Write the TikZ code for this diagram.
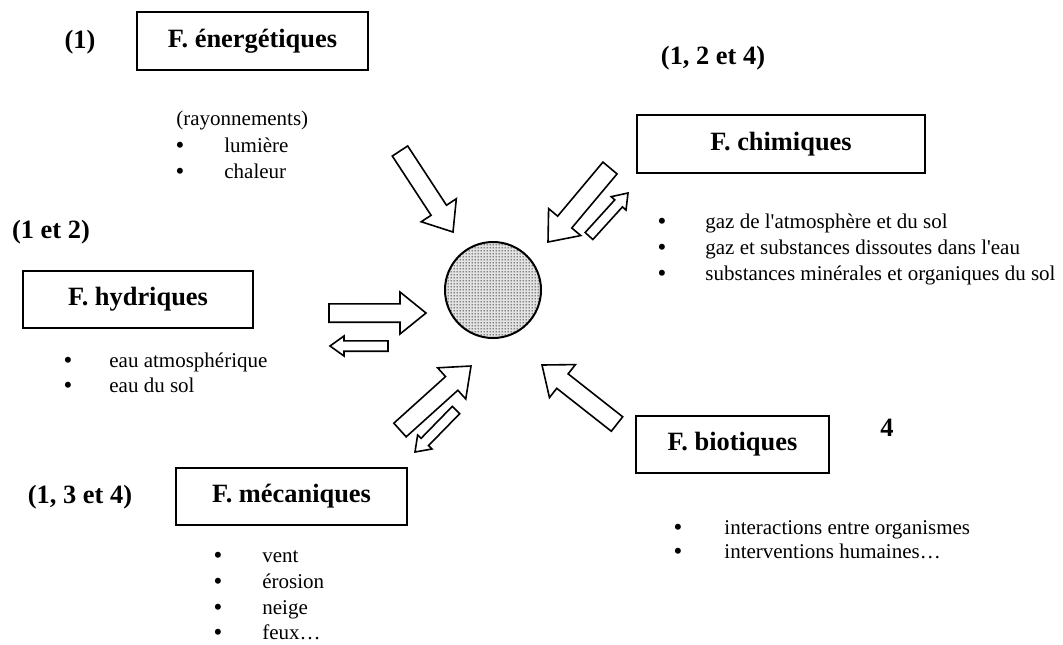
\documentclass[tikz,border=0pt]{standalone}
\usepackage{fontspec}
\setmainfont{Liberation Serif}
\usepackage{tikz}
\usetikzlibrary{calc,patterns.meta}

\newcommand{\bodyfont}{\fontsize{10.5}{12}\selectfont}
\newcommand{\labfont}{\fontsize{13.2}{15}\selectfont\bfseries}

\tikzdeclarepattern{
  name=finedots,
  type=uncolored,
  bottom left={(0pt,0pt)},
  top right={(1.5pt,1.5pt)},
  tile size={(1.5pt,1.5pt)},
  code={\fill (0.75pt,0.75pt) circle (0.45pt);}
}

\tikzset{
  factor/.style={draw, line width=1pt, font=\labfont, inner sep=0pt},
  lab/.style={font=\labfont, inner sep=0pt},
  item/.style={font=\bodyfont, anchor=west, inner sep=0pt, text height=7pt, text depth=2pt},
  bul/.style={font=\fontsize{12.5}{12.5}\selectfont, inner sep=0pt, text height=5pt, text depth=0pt, yshift=-0.8pt},
  blockline/.style={draw, line width=0.8pt, fill=white, line join=miter},
  core/.style={circle, draw, line width=1pt, minimum size=48pt, inner sep=0pt,
    preaction={fill=gray!22}, pattern=finedots, pattern color=black!85}
}

% #1 tail, #2 tip, #3 half shaft, #4 half head, #5 head length
\newcommand{\blockarr}[5]{%
  \coordinate (ba-t) at (#1);
  \coordinate (ba-h) at (#2);
  \coordinate (ba-b) at ($(ba-h)!#5!(ba-t)$);
  \draw[blockline] ($(ba-t)!#3!90:(ba-h)$) -- ($(ba-b)!#3!-90:(ba-t)$)
    -- ($(ba-b)!#4!-90:(ba-t)$) -- (ba-h) -- ($(ba-b)!#4!90:(ba-t)$)
    -- ($(ba-b)!#3!90:(ba-t)$) -- ($(ba-t)!#3!-90:(ba-h)$) -- cycle;}
\newcommand{\bigarr}[2]{\blockarr{#1}{#2}{4.6pt}{10.5pt}{13pt}}
\newcommand{\smallarr}[2]{\blockarr{#1}{#2}{2.6pt}{5pt}{7pt}}

\begin{document}
\begin{tikzpicture}[x=0.5pt, y=-0.5pt]
  \useasboundingbox (0,0) rectangle (1063,644);

  % centre
  \node[core] (core) at (493,290) {};

  % facteurs
  \node[factor, minimum width=115.5pt, minimum height=29pt] (ener) at (252.5,41) {F. énergétiques};
  \node[factor, minimum width=144pt, minimum height=29pt] (chim) at (781,144) {F. chimiques};
  \node[factor, minimum width=115pt, minimum height=28.5pt] (hydr) at (138,299.5) {F. hydriques};
  \node[factor, minimum width=115.5pt, minimum height=28.5pt] (meca) at (291.5,496.5) {F. mécaniques};
  \node[factor, minimum width=96.5pt, minimum height=28.5pt] (biot) at (732.5,444.5) {F. biotiques};

  \node[lab] (enerN) at (80,42) {(1)};
  \node[lab] (chimN) at (713,58) {(1, 2 et 4)};
  \node[lab] (hydrN) at (51,232) {(1 et 2)};
  \node[lab] (mecaN) at (80,497) {(1, 3 et 4)};
  \node[lab] (biotN) at (887,428) {4};

  % listes
  \node[item] (ray) at (176,120) {(rayonnements)};
  \foreach \y/\t [count=\i] in {147/lumière, 173/chaleur} {
    \node[bul] at (180,\y) {•};
    \node[item] (ener\i) at (224,\y) {\t};
  }
  \foreach \y/\t [count=\i] in {223/gaz de l\textquotesingle atmosphère et du sol,
      249/gaz et substances dissoutes dans l\textquotesingle eau,
      275/substances minérales et organiques du sol} {
    \node[bul] at (662,\y) {•};
    \node[item] (chim\i) at (705,\y) {\t};
  }
  \foreach \y/\t [count=\i] in {362/eau atmosphérique, 387/eau du sol} {
    \node[bul] at (68,\y) {•};
    \node[item] (hydr\i) at (109,\y) {\t};
  }
  \foreach \y/\t [count=\i] in {557/vent, 583/érosion, 609/neige, 634/feux…} {
    \node[bul] at (218,\y) {•};
    \node[item] (meca\i) at (262,\y) {\t};
  }
  \foreach \y/\t [count=\i] in {529/interactions entre organismes, 553/interventions humaines…} {
    \node[bul] at (678,\y) {•};
    \node[item] (biot\i) at (724,\y) {\t};
  }

  % fleches
  \coordinate (enerT) at (400,151);  \coordinate (enerH) at (453,232);
  \coordinate (chimT) at (610,168);  \coordinate (chimH) at (548,242);
  \coordinate (chimT2) at (589,236); \coordinate (chimH2) at (628,193);
  \coordinate (hydrT) at (329,313);  \coordinate (hydrH) at (426,313);
  \coordinate (hydrT2) at (388,346); \coordinate (hydrH2) at (330,346);
  \coordinate (mecaT) at (400,430);  \coordinate (mecaH) at (471,366);
  \coordinate (mecaT2) at (456,410); \coordinate (mecaH2) at (415,452);
  \coordinate (biotT) at (617,424);  \coordinate (biotH) at (542,365);

  \bigarr{enerT}{enerH}
  \bigarr{chimT}{chimH}
  \smallarr{chimT2}{chimH2}
  \bigarr{hydrT}{hydrH}
  \smallarr{hydrT2}{hydrH2}
  \bigarr{mecaT}{mecaH}
  \smallarr{mecaT2}{mecaH2}
  \bigarr{biotT}{biotH}
\end{tikzpicture}
\end{document}
